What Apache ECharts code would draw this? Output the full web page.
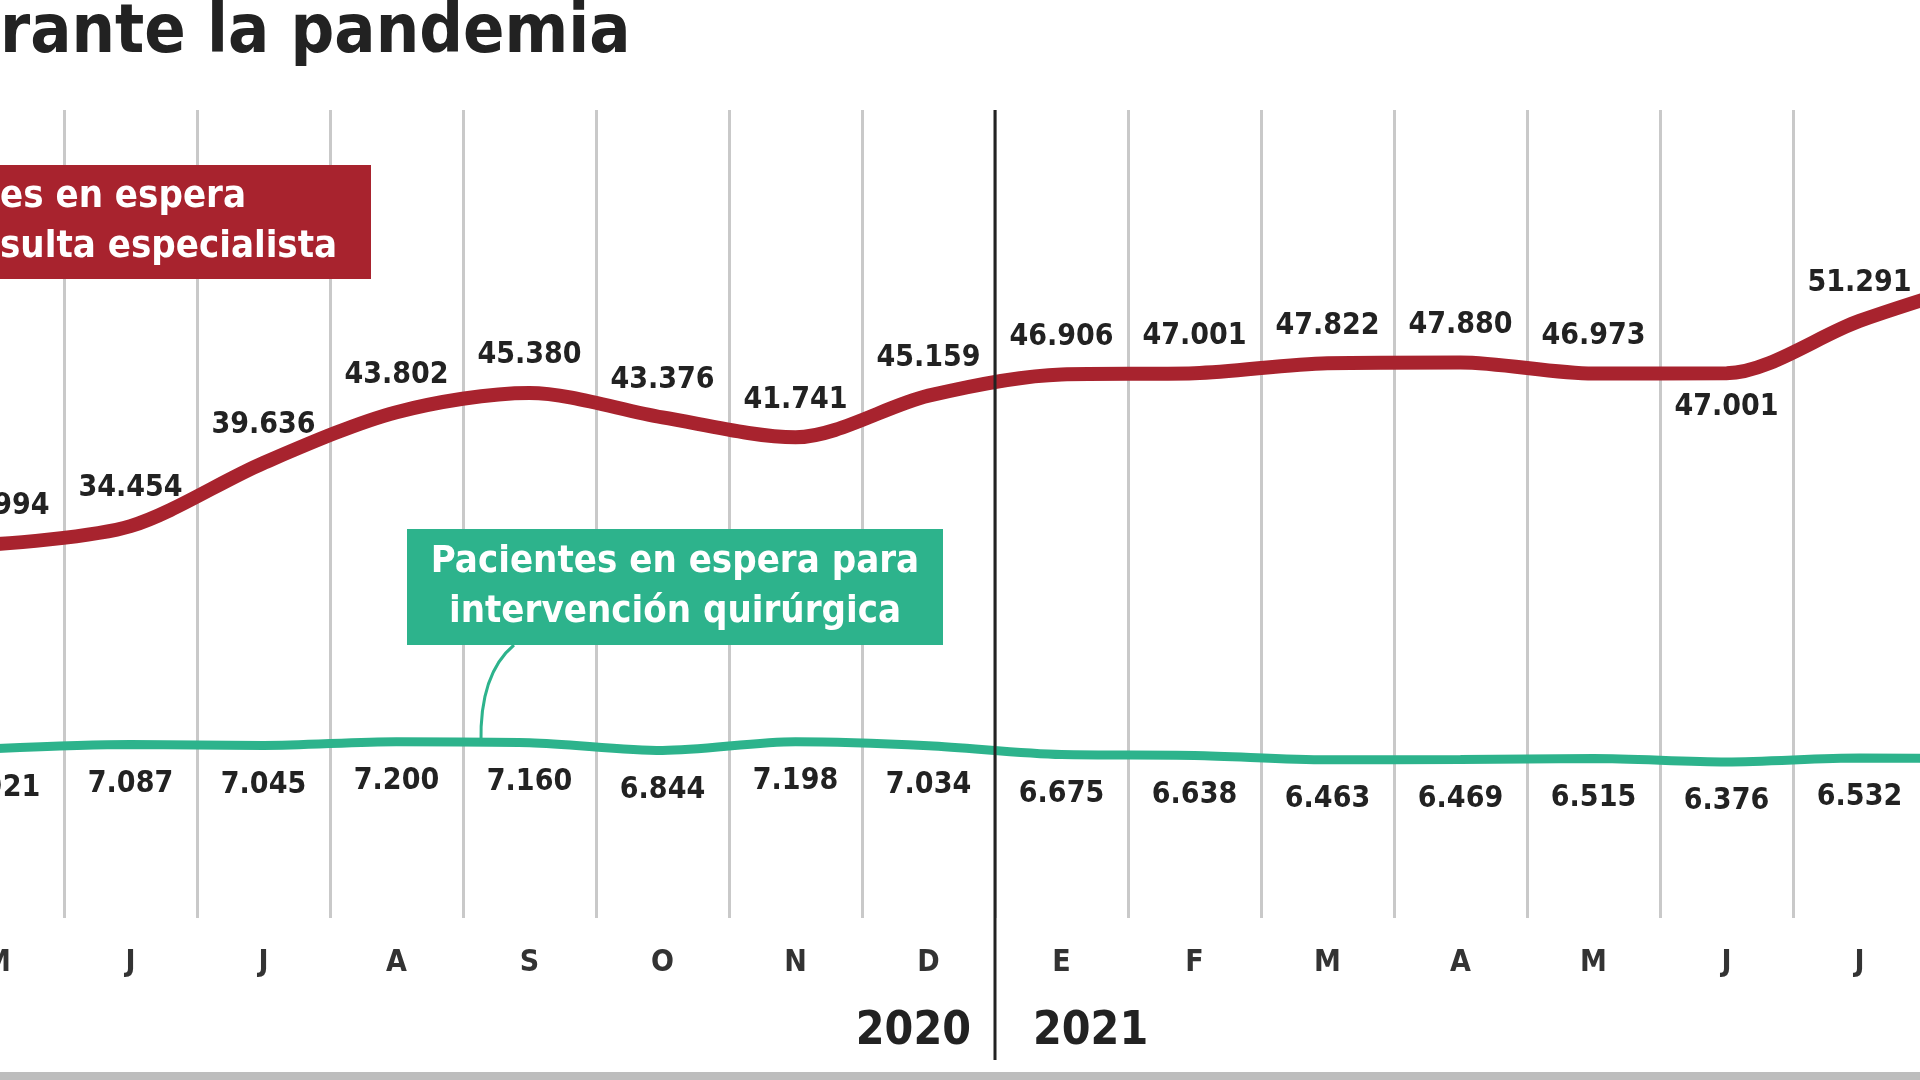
<!DOCTYPE html>
<html>
<head>
<meta charset="utf-8">
<script src="https://cdn.jsdelivr.net/npm/echarts@6/dist/echarts.min.js"></script>
<style>html,body{margin:0;padding:0;background:#fff;overflow:hidden;width:1920px;height:1080px}
#chart{position:absolute;left:-69px;top:0;width:2128px;height:1080px}</style>
</head>
<body>
<div id="chart"></div>
<script>
// meses (mayo 2020 - agosto 2021)
var months = ['M', 'J', 'J', 'A', 'S', 'O', 'N', 'D', 'E', 'F', 'M', 'A', 'M', 'J', 'J', 'A'];
// pacientes en espera para consulta especialista
var consulta = [32994, 34454, 39636, 43802, 45380, 43376, 41741, 45159, 46906, 47001, 47822, 47880, 46973, 47001, 51291, 54800];
// pacientes en espera para intervención quirúrgica
var quirurgica = [6921, 7087, 7045, 7200, 7160, 6844, 7198, 7034, 6675, 6638, 6463, 6469, 6515, 6376, 6532, 6500];

var FONT = '"DejaVu Sans Condensed", "DejaVu Sans", sans-serif';
var RED = '#a8232e';
var GREEN = '#2db38c';
var OFF = 69; // el gráfico empieza fuera de la imagen

function fmt(v) {
    return String(v).replace(/\B(?=(\d{3})+(?!\d))/g, '.');
}

var myChart = echarts.init(document.getElementById('chart'));

var redData = consulta.map(function (v, i) {
    var d = {value: v};
    if (i === 13) {
        d.label = {position: 'bottom', distance: 18};
    }
    return d;
});

var labelStyle = {
    show: true, color: '#222', fontSize: 30, fontWeight: 'bold', fontFamily: FONT,
    formatter: function (p) { return fmt(p.value); }
};

var option = {
    animation: false,
    grid: {left: 0, right: 0, top: 110, bottom: 162},
    xAxis: {
        type: 'category',
        data: months,
        boundaryGap: true,
        axisLine: {show: false},
        axisTick: {show: false},
        axisLabel: {
            margin: 30, color: '#333', fontSize: 30, fontWeight: 'bold', fontFamily: FONT, interval: 0
        },
        splitLine: {show: true, interval: 0, lineStyle: {color: '#c9c9c9', width: 3}}
    },
    yAxis: [
        {type: 'value', min: 2300, max: 68600, show: false, splitLine: {show: false}},
        {type: 'value', min: 0, max: 33000, show: false, splitLine: {show: false}}
    ],
    series: [
        {
            type: 'line',
            data: redData,
            smooth: 0.3,
            symbol: 'circle',
            symbolSize: 1,
            itemStyle: {color: RED},
            lineStyle: {color: RED, width: 14},
            label: Object.assign({position: 'top', distance: 22}, labelStyle),
            labelLayout: {hideOverlap: false},
            z: 5
        },
        {
            type: 'line',
            yAxisIndex: 1,
            data: quirurgica,
            smooth: 0.3,
            symbol: 'circle',
            symbolSize: 1,
            itemStyle: {color: GREEN},
            lineStyle: {color: GREEN, width: 9},
            label: Object.assign({position: 'bottom', distance: 24}, labelStyle),
            labelLayout: {hideOverlap: false},
            z: 5
        }
    ]
};
myChart.setOption(option);

// separador 2020 / 2021 entre D y E
var xD = myChart.convertToPixel({xAxisIndex: 0}, 7);
var xE = myChart.convertToPixel({xAxisIndex: 0}, 8);
var sepX = Math.round((xD + xE) / 2);

myChart.setOption({
    graphic: [
        {type: 'text', z: 10,
            style: {text: 'rante la pandemia', x: OFF, y: 0, fill: '#222', font: 'bold 68px ' + FONT}},
        {type: 'line', z: 8, shape: {x1: sepX, y1: 110, x2: sepX, y2: 1060},
            style: {stroke: '#222', lineWidth: 3}},
        {type: 'text', z: 10, style: {text: '2020', x: sepX - 24, y: 1032, align: 'right', verticalAlign: 'middle',
            fill: '#222', font: 'bold 46px ' + FONT}},
        {type: 'text', z: 10, style: {text: '2021', x: sepX + 38, y: 1032, align: 'left', verticalAlign: 'middle',
            fill: '#222', font: 'bold 46px ' + FONT}},
        {type: 'rect', z: 8, shape: {x: 0, y: 1072, width: 2128, height: 8}, style: {fill: '#bdbdbd'}},
        // leyenda consulta
        {type: 'rect', z: 10, shape: {x: OFF - 10, y: 165, width: 381, height: 114}, style: {fill: RED}},
        {type: 'text', z: 11, style: {text: 'es en espera\nsulta especialista', x: OFF, y: 222, verticalAlign: 'middle',
            lineHeight: 50, fill: '#fff', font: 'bold 38px ' + FONT}},
        // leyenda quirúrgica
        {type: 'rect', z: 10, shape: {x: OFF + 407, y: 529, width: 536, height: 116}, style: {fill: GREEN}},
        {type: 'text', z: 11, style: {text: 'Pacientes en espera para\nintervención quirúrgica', x: OFF + 675, y: 587,
            align: 'center', verticalAlign: 'middle', lineHeight: 50, fill: '#fff', font: 'bold 38px ' + FONT}},
        {type: 'bezierCurve', z: 9, shape: {x1: OFF + 514, y1: 645, cpx1: OFF + 490, cpy1: 665,
            cpx2: OFF + 480, cpy2: 700, x2: OFF + 481, y2: 743},
            style: {stroke: GREEN, lineWidth: 3, fill: null}}
    ]
});
</script>
</body>
</html>
